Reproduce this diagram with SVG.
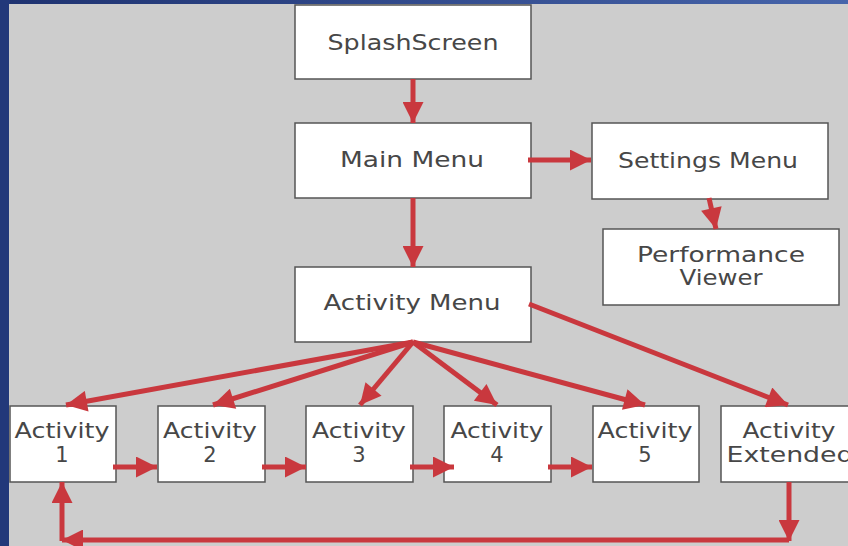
<svg xmlns="http://www.w3.org/2000/svg" width="848" height="546" viewBox="0 0 848 546">
<defs>
<linearGradient id="bg" x1="0" y1="0" x2="1" y2="0.3">
<stop offset="0" stop-color="#1e3270"/>
<stop offset="1" stop-color="#4a69b0"/>
</linearGradient>
<marker id="ah" viewBox="0 0 10 10" refX="10" refY="5" markerWidth="5" markerHeight="4.2" orient="auto" markerUnits="strokeWidth">
<path d="M0,0 L10,5 L0,10 Z" fill="#c9383e"/>
</marker>
<style>
.box{fill:#ffffff;stroke:#555555;stroke-width:1.5}
.t{font-family:"DejaVu Sans","Liberation Sans",sans-serif;font-size:21px;fill:#474747;text-anchor:middle}
.c{fill:none;stroke:#c9383e;stroke-width:5;marker-end:url(#ah)}
.p{fill:none;stroke:#c9383e;stroke-width:5}
</style>
</defs>
<rect x="0" y="0" width="848" height="546" fill="url(#bg)"/>
<rect x="0" y="0" width="10" height="546" fill="#22387a"/>
<rect x="9" y="4" width="839" height="542" fill="#cdcdcd"/>

<g id="splash"><rect class="box" x="295" y="5" width="236" height="74"/><text class="t" x="413" y="50" textLength="171" lengthAdjust="spacingAndGlyphs">SplashScreen</text></g>
<g id="mainmenu"><rect class="box" x="295" y="123" width="236" height="75"/><text class="t" x="412" y="167" textLength="144" lengthAdjust="spacingAndGlyphs">Main Menu</text></g>
<g id="settings"><rect class="box" x="592" y="123" width="236" height="76"/><text class="t" x="708" y="168" textLength="180" lengthAdjust="spacingAndGlyphs">Settings Menu</text></g>
<g id="performance"><rect class="box" x="603" y="229" width="236" height="76"/><text class="t" x="721" y="262" textLength="168" lengthAdjust="spacingAndGlyphs">Performance</text><text class="t" x="721" y="285" textLength="83" lengthAdjust="spacingAndGlyphs">Viewer</text></g>
<g id="activitymenu"><rect class="box" x="295" y="267" width="236" height="75"/><text class="t" x="412" y="310" textLength="177" lengthAdjust="spacingAndGlyphs">Activity Menu</text></g>
<g id="act1"><rect class="box" x="10" y="406" width="106" height="76"/><text class="t" x="62" y="438" textLength="95" lengthAdjust="spacingAndGlyphs">Activity</text><text class="t" x="62" y="462">1</text></g>
<g id="act2"><rect class="box" x="158" y="406" width="107" height="76"/><text class="t" x="210" y="438" textLength="94" lengthAdjust="spacingAndGlyphs">Activity</text><text class="t" x="210" y="462">2</text></g>
<g id="act3"><rect class="box" x="306" y="406" width="107" height="76"/><text class="t" x="359" y="438" textLength="94" lengthAdjust="spacingAndGlyphs">Activity</text><text class="t" x="359" y="462">3</text></g>
<g id="act4"><rect class="box" x="444" y="406" width="107" height="76"/><text class="t" x="497" y="438" textLength="93" lengthAdjust="spacingAndGlyphs">Activity</text><text class="t" x="497" y="462">4</text></g>
<g id="act5"><rect class="box" x="593" y="406" width="106" height="76"/><text class="t" x="645" y="438" textLength="95" lengthAdjust="spacingAndGlyphs">Activity</text><text class="t" x="645" y="462">5</text></g>
<g id="actext"><rect class="box" x="721" y="406" width="140" height="76"/><text class="t" x="789" y="438" textLength="93" lengthAdjust="spacingAndGlyphs">Activity</text><text class="t" x="790" y="462" textLength="127" lengthAdjust="spacingAndGlyphs">Extended</text></g>

<g id="connectors">
<line class="c" x1="413" y1="79" x2="413" y2="123"/>
<line class="c" x1="528" y1="160" x2="591" y2="160"/>
<line class="c" x1="709" y1="198" x2="716" y2="229"/>
<line class="c" x1="413" y1="198" x2="413" y2="267"/>
<line class="c" x1="413" y1="342" x2="66" y2="405"/>
<line class="c" x1="413" y1="342" x2="213" y2="405"/>
<line class="c" x1="413" y1="342" x2="360" y2="405"/>
<line class="c" x1="413" y1="342" x2="497" y2="405"/>
<line class="c" x1="413" y1="342" x2="645" y2="405"/>
<line class="c" x1="529" y1="304" x2="788" y2="405"/>
<line class="c" x1="113" y1="467" x2="157" y2="467"/>
<line class="c" x1="262" y1="467" x2="306" y2="467"/>
<line class="c" x1="410" y1="467" x2="454" y2="467"/>
<line class="c" x1="548" y1="467" x2="592" y2="467"/>
<line class="c" x1="789" y1="482" x2="789" y2="541"/>
<line class="c" x1="789" y1="540" x2="62" y2="540"/>
<line class="c" x1="62" y1="541" x2="62" y2="482"/>
</g>
</svg>
